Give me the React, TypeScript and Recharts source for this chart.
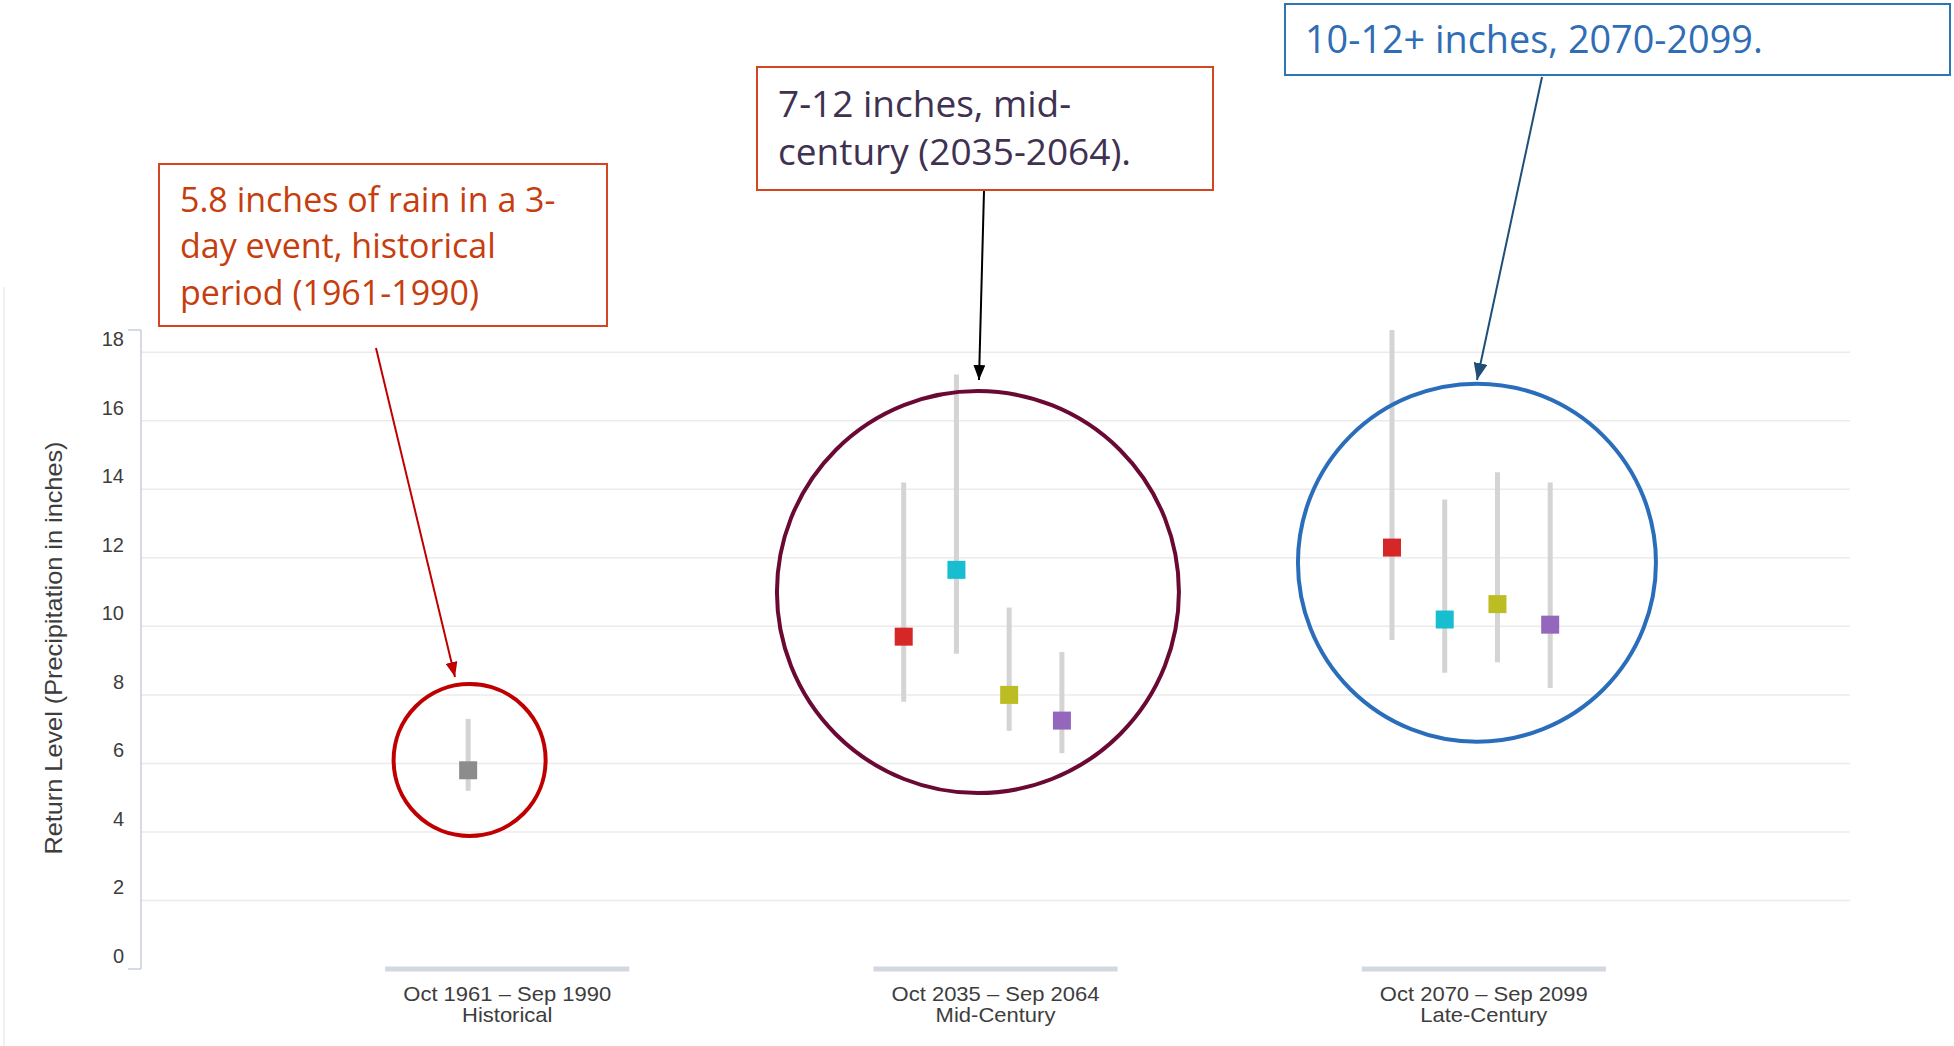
import React from 'react'
import { ScatterChart, Scatter, XAxis, YAxis, CartesianGrid, ErrorBar, ReferenceLine, ReferenceDot } from 'recharts'

// x categories
const periods = ['Oct 1961 – Sep 1990', 'Oct 2035 – Sep 2064', 'Oct 2070 – Sep 2099']
const eras = ['Historical', 'Mid-Century', 'Late-Century']

// y axis
const yTicks = [0, 2, 4, 6, 8, 10, 12, 14, 16, 18]
const gridValues = [2, 4, 6, 8, 10, 12, 14, 16, 18]
const yTop = 18.65

// historical return level (observed)
const histCats = [0]
const histMid = [5.8]
const histLow = [5.2]
const histHigh = [7.3]

// model projections, [mid-century, late-century]
const projCats = [1, 2]
const redMid = [9.7, 12.3]
const redLow = [7.8, 9.6]
const redHigh = [14.2, 18.65]
const cyanMid = [11.65, 10.2]
const cyanLow = [9.2, 8.65]
const cyanHigh = [17.35, 13.7]
const oliveMid = [8.0, 10.65]
const oliveLow = [6.95, 8.95]
const oliveHigh = [10.55, 14.5]
const purpleMid = [7.25, 10.05]
const purpleLow = [6.3, 8.2]
const purpleHigh = [9.25, 14.2]

// slot offsets inside a category group
const dodge = (slot: number) => -0.188 + slot * 0.108

const series = [
  { name: 'Historical', color: '#8c8c8c', slot: 1, cats: histCats, mid: histMid, low: histLow, high: histHigh },
  { name: 'Model A', color: '#d62728', slot: 0, cats: projCats, mid: redMid, low: redLow, high: redHigh },
  { name: 'Model B', color: '#17becf', slot: 1, cats: projCats, mid: cyanMid, low: cyanLow, high: cyanHigh },
  { name: 'Model C', color: '#bcbd22', slot: 2, cats: projCats, mid: oliveMid, low: oliveLow, high: oliveHigh },
  { name: 'Model D', color: '#9467bd', slot: 3, cats: projCats, mid: purpleMid, low: purpleLow, high: purpleHigh },
]

const toPoints = (s: typeof series[number]) =>
  s.mid.map((v, i) => ({
    x: s.cats[i] + dodge(s.slot),
    y: v,
    err: [v - s.low[i], s.high[i] - v],
  }))

const axisFont = '"Liberation Sans", Arial, sans-serif'
const noteFont = '"Open Sans", "Noto Sans", sans-serif'

const Square = (props: any) => {
  const { cx, cy, fill } = props
  return <rect x={cx - 9} y={cy - 9} width={18} height={18} fill={fill} />
}

const YTick = (props: any) => {
  const { x, y, payload } = props
  const v = payload.value
  const bracket = v === 0 || v === yTop
  return (
    <g>
      {bracket && <line x1={x - 13} x2={x} y1={y} y2={y} stroke="#c9ced8" strokeWidth={1.5} />}
      {v !== yTop && (
        <text x={x - 17} y={y - 6} textAnchor="end" fill="#3d3d3d" fontSize={20} fontFamily={axisFont}>
          {v}
        </text>
      )}
    </g>
  )
}

// the source labels are a little wider than the font, so stretch them slightly
const XTick = (props: any) => {
  const { x, y, payload } = props
  const i = Math.round(payload.value)
  return (
    <g transform={`translate(${x},${y}) scale(1.1,1)`}>
      <text x={0} y={32} textAnchor="middle" fill="#3d3d3d" fontSize={20} fontFamily={axisFont}>
        {periods[i]}
      </text>
      <text x={0} y={53} textAnchor="middle" fill="#3d3d3d" fontSize={20} fontFamily={axisFont}>
        {eras[i]}
      </text>
    </g>
  )
}

// callout rings around each group (data coords)
const rings = [
  { x: -0.077, y: 6.1, r: 76, color: '#c00000' },
  { x: 0.964, y: 11.0, r: 201, color: '#6a0a34' },
  { x: 1.986, y: 11.86, r: 179, color: '#2a6ebb' },
]

export default function App() {
  return (
    <div style={{ position: 'absolute', left: 0, top: 0, width: 1954, height: 1046, background: '#fff' }}>
      <ScatterChart width={1954} height={1046} margin={{ top: 330, right: 104, bottom: 0, left: 0 }}>
        <CartesianGrid vertical={false} stroke="#ebebeb" strokeWidth={1.5} horizontalValues={gridValues} />
        <XAxis
          type="number"
          dataKey="x"
          domain={[-0.75, 2.75]}
          ticks={[0, 1, 2]}
          interval={0}
          allowDataOverflow
          axisLine={false}
          tickLine={false}
          tickSize={0}
          tickMargin={0}
          height={77}
          tick={<XTick />}
        />
        <YAxis
          type="number"
          dataKey="y"
          domain={[0, yTop]}
          ticks={[...yTicks, yTop]}
          interval={0}
          allowDataOverflow
          width={141}
          axisLine={{ stroke: '#c9ced8', strokeWidth: 1.5 }}
          tickLine={false}
          tickSize={0}
          tickMargin={0}
          tick={<YTick />}
        />
        {periods.map((p, i) => (
          <ReferenceLine
            key={p}
            segment={[{ x: i - 0.25, y: 0 }, { x: i + 0.25, y: 0 }]}
            stroke="#d3d7df"
            strokeWidth={5}
          />
        ))}
        {series.map(s => (
          <Scatter key={s.name} name={s.name} data={toPoints(s)} fill={s.color} shape={Square} isAnimationActive={false}>
            <ErrorBar dataKey="err" direction="y" width={0} stroke="#d4d4d4" strokeWidth={5} isAnimationActive={false} />
          </Scatter>
        ))}
        {rings.map((r, i) => (
          <ReferenceDot key={i} x={r.x} y={r.y} r={r.r} fill="none" stroke={r.color} strokeWidth={4} />
        ))}
      </ScatterChart>

      <svg width={1954} height={1046} style={{ position: 'absolute', left: 0, top: 0, pointerEvents: 'none' }}>
        <defs>
          <marker id="headRed" markerUnits="userSpaceOnUse" markerWidth={16} markerHeight={12} refX={15} refY={6} orient="auto">
            <path d="M0,0 L15,6 L0,12 z" fill="#c00000" />
          </marker>
          <marker id="headBlack" markerUnits="userSpaceOnUse" markerWidth={16} markerHeight={12} refX={15} refY={6} orient="auto">
            <path d="M0,0 L15,6 L0,12 z" fill="#000" />
          </marker>
          <marker id="headBlue" markerUnits="userSpaceOnUse" markerWidth={18} markerHeight={14} refX={17} refY={7} orient="auto">
            <path d="M0,0 L17,7 L0,14 z" fill="#1f4e79" />
          </marker>
        </defs>

        <line x1={4} x2={4} y1={287} y2={1046} stroke="#ececec" strokeWidth={1.5} />

        <text
          transform="translate(54,648) rotate(-90) scale(1.1,1)"
          x={0}
          y={0}
          textAnchor="middle"
          dominantBaseline="central"
          fill="#3d3d3d"
          fontSize={23}
          fontFamily={axisFont}
        >
          Return Level (Precipitation in inches)
        </text>

        {/* historical callout */}
        <rect x={159} y={164} width={448} height={162} fill="#fff" stroke="#d4461f" strokeWidth={2} />
        <g fill="#c63d0e" fontSize={34} fontFamily={noteFont}>
          <text x={180} y={212}>5.8 inches of rain in a 3-</text>
          <text x={180} y={258}>day event, historical</text>
          <text x={180} y={305}>period (1961-1990)</text>
        </g>
        <line x1={376} y1={348} x2={455} y2={677} stroke="#c00000" strokeWidth={2} markerEnd="url(#headRed)" />

        {/* mid-century callout */}
        <rect x={757} y={67} width={456} height={123} fill="#fff" stroke="#d4461f" strokeWidth={2} />
        <g fill="#3f3151" fontSize={37} fontFamily={noteFont}>
          <text x={778} y={117}>7-12 inches, mid-</text>
          <text x={778} y={165}>century (2035-2064).</text>
        </g>
        <line x1={984} y1={191} x2={979} y2={380} stroke="#000" strokeWidth={2} markerEnd="url(#headBlack)" />

        {/* late-century callout */}
        <rect x={1285} y={4} width={665} height={71} fill="#fff" stroke="#2e75b6" strokeWidth={2} />
        <text x={1305} y={53} fill="#2f6db5" fontSize={37.8} fontFamily={noteFont}>
          10-12+ inches, 2070-2099.
        </text>
        <line x1={1542} y1={77} x2={1477} y2={380} stroke="#1f4e79" strokeWidth={2} markerEnd="url(#headBlue)" />
      </svg>
    </div>
  )
}
